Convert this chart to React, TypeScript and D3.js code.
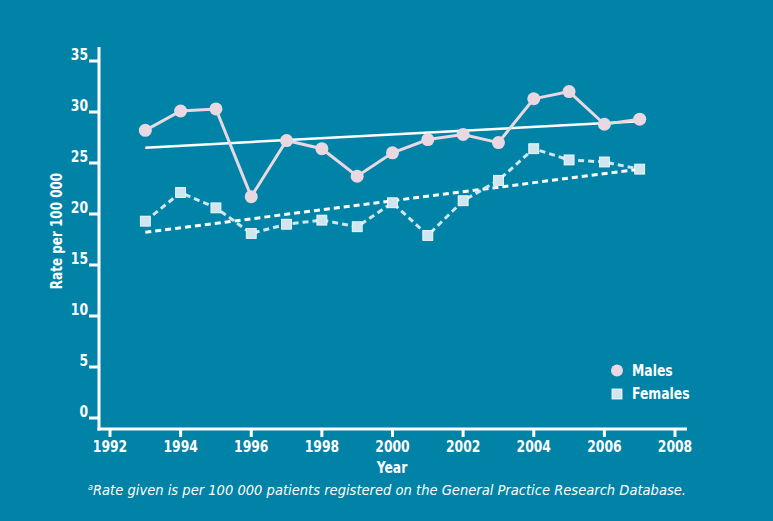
import React from "react";
import * as d3 from "d3";

const years = [1993, 1994, 1995, 1996, 1997, 1998, 1999, 2000, 2001, 2002, 2003, 2004, 2005, 2006, 2007];
const males = [28.2, 30.1, 30.3, 21.7, 27.2, 26.4, 23.7, 26.0, 27.3, 27.8, 27.0, 31.3, 32.0, 28.8, 29.3];
const females = [19.3, 22.1, 20.6, 18.1, 19.0, 19.4, 18.75, 21.1, 17.9, 21.3, 23.3, 26.4, 25.3, 25.1, 24.4];
const maleTrend = [26.5, 29.1];
const femaleTrend = [18.2, 24.4];
const trendYears = [1993, 2007];
const xTicks = [1992, 1994, 1996, 1998, 2000, 2002, 2004, 2006, 2008];
const yTicks = [0, 5, 10, 15, 20, 25, 30, 35];
const legendLabels = ["Males", "Females"];

const BG = "#0083A6";
const PINK = "#E9D8E2";
const LBLUE = "#CFE5EF";
const FONT = "'DejaVu Sans Condensed', 'DejaVu Sans', sans-serif";
const SX = 0.86;

function Label(props: {
  x: number;
  y: number;
  anchor?: string;
  size?: number;
  rotate?: number;
  children: React.ReactNode;
}) {
  const { x, y, anchor = "start", size = 16, rotate = 0, children } = props;
  return (
    <text
      transform={`translate(${x},${y}) rotate(${rotate}) scale(${SX},1)`}
      textAnchor={anchor}
      fill="#fff"
      fontFamily={FONT}
      fontWeight="bold"
      fontSize={size}
    >
      {children}
    </text>
  );
}

export default function App() {
  const x = d3.scaleLinear().domain([1992, 2008]).range([110, 675]);
  const y = d3.scaleLinear().domain([0, 35]).range([418, 61]);
  const line = d3
    .line<[number, number]>()
    .x((d) => x(d[0]))
    .y((d) => y(d[1]));
  const mPts = years.map((yr, i) => [yr, males[i]] as [number, number]);
  const fPts = years.map((yr, i) => [yr, females[i]] as [number, number]);
  const mTr = trendYears.map((yr, i) => [yr, maleTrend[i]] as [number, number]);
  const fTr = trendYears.map((yr, i) => [yr, femaleTrend[i]] as [number, number]);
  const axisX = 99;
  const axisY = 429;

  return (
    <div style={{ position: "fixed", left: 0, top: 0 }}>
      <svg width={773} height={521} style={{ display: "block" }}>
        <rect width={773} height={521} fill={BG} />
        {/* axes */}
        <line x1={axisX} y1={47} x2={axisX} y2={axisY + 1.5} stroke="#fff" strokeWidth={3} />
        <line x1={axisX - 1.5} y1={axisY} x2={687} y2={axisY} stroke="#fff" strokeWidth={3} />
        {yTicks.map((t) => (
          <g key={"y" + t}>
            <line x1={89} x2={axisX} y1={y(t)} y2={y(t)} stroke="#fff" strokeWidth={3} />
            <Label x={88} y={y(t) - 1.5} anchor="end">
              {t}
            </Label>
          </g>
        ))}
        {xTicks.map((t) => (
          <g key={"x" + t}>
            <line x1={x(t)} x2={x(t)} y1={axisY} y2={437} stroke="#fff" strokeWidth={3} />
            <Label x={x(t)} y={451.5} anchor="middle">
              {t}
            </Label>
          </g>
        ))}
        <Label x={392} y={473} anchor="middle">
          Year
        </Label>
        <Label x={62} y={231} anchor="middle" rotate={-90} size={15.5}>
          Rate per 100 000
        </Label>
        {/* trend lines */}
        <path d={line(mTr) || ""} fill="none" stroke="#fff" strokeWidth={2.5} />
        <path d={line(fTr) || ""} fill="none" stroke="#fff" strokeWidth={3} strokeDasharray="6,4" />
        {/* series lines */}
        <path d={line(mPts) || ""} fill="none" stroke={PINK} strokeWidth={3} />
        <path d={line(fPts) || ""} fill="none" stroke={LBLUE} strokeWidth={3} strokeDasharray="6,4" />
        {mPts.map((p, i) => (
          <circle key={"m" + i} cx={x(p[0])} cy={y(p[1])} r={6.5} fill={PINK} />
        ))}
        {fPts.map((p, i) => (
          <rect
            key={"f" + i}
            x={x(p[0]) - 5}
            y={y(p[1]) - 5}
            width={10}
            height={10}
            fill={LBLUE}
            stroke="#fff"
            strokeWidth={0.8}
          />
        ))}
        {/* legend */}
        <circle cx={617} cy={370.5} r={6} fill={PINK} />
        <Label x={632} y={376}>
          {legendLabels[0]}
        </Label>
        <rect x={612} y={389} width={10} height={10} fill={LBLUE} stroke="#fff" strokeWidth={0.8} />
        <Label x={632} y={399}>
          {legendLabels[1]}
        </Label>
        {/* footnote */}
        <text
          x={88}
          y={495}
          fill="#fff"
          fontFamily={FONT}
          fontStyle="italic"
          fontSize={14.5}
          textLength={598}
          lengthAdjust="spacingAndGlyphs"
        >
          <tspan fontSize={9} dy={-5}>a</tspan>
          <tspan dy={5}>Rate given is per 100 000 patients registered on the General Practice Research Database.</tspan>
        </text>
      </svg>
    </div>
  );
}
